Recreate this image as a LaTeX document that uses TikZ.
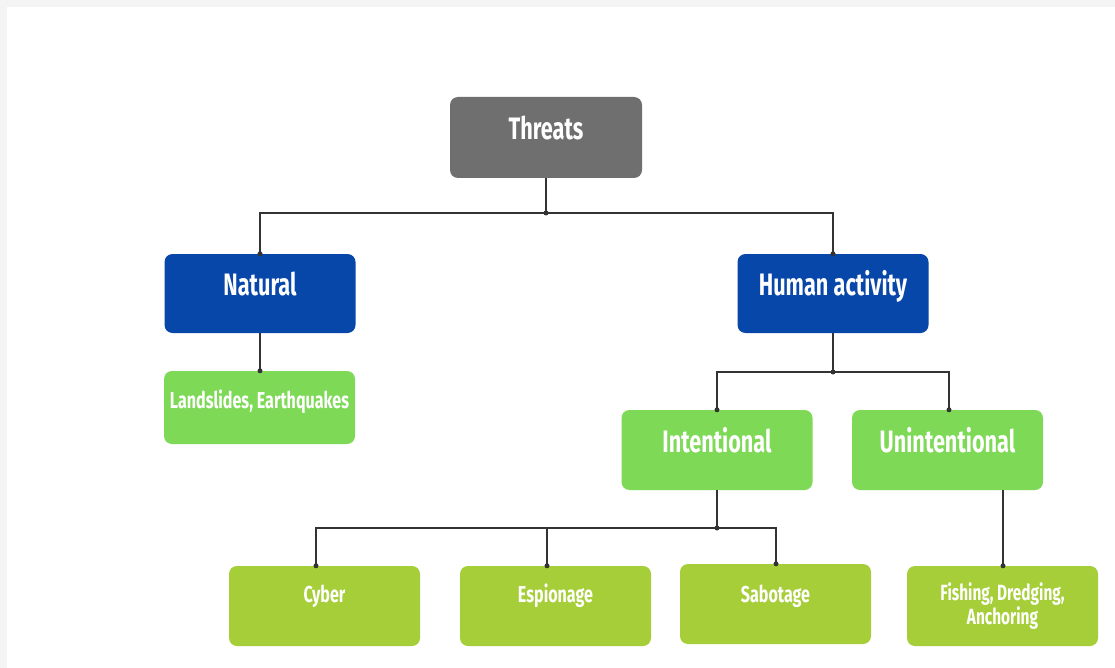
\documentclass[tikz,border=0pt]{standalone}
\usepackage{fontspec}
\newfontfamily\cond[FakeStretch=0.7]{Fira Sans}
\definecolor{pagegrey}{HTML}{F4F4F4}
\definecolor{boxgrey}{HTML}{6F6F6F}
\definecolor{boxblue}{HTML}{0747A9}
\definecolor{boxlight}{HTML}{7ED957}
\definecolor{boxlime}{HTML}{A6CE39}
\definecolor{linecol}{HTML}{333333}
\begin{document}
\begin{tikzpicture}[x=1pt,y=-1pt,
  box/.style={rounded corners=8pt, minimum width=191pt, inner sep=0pt, text=white, draw=none},
  bigtext/.style={font=\cond\bfseries\fontsize{31}{36}\selectfont},
  smalltext/.style={font=\cond\bfseries\fontsize{23}{26}\selectfont},
  conn/.style={draw=linecol, line width=1.5pt},
  dot/.style={fill=linecol, circle, inner sep=0pt, minimum size=5pt}
]
\fill[pagegrey] (0,0) rectangle (1115,668);
\fill[white] (7,7) rectangle (1115,668);
\useasboundingbox (0,0) rectangle (1115,668);

% nodes
\node[box, bigtext, fill=boxgrey, minimum width=192pt, text height=43pt, text depth=38pt] (threats) at (546,137.5) {Threats};
\node[box, bigtext, fill=boxblue, text height=41pt, text depth=38pt] (natural) at (260,293.5) {Natural};
\node[box, bigtext, fill=boxblue, text height=41pt, text depth=38pt] (human) at (833,293.5) {Human activity};
\node[box, smalltext, fill=boxlight, text height=37pt, text depth=36pt] (land) at (259.5,407.5) {Landslides, Earthquakes};
\node[box, bigtext, fill=boxlight, text height=42pt, text depth=38pt] (intent) at (717,450) {Intentional};
\node[box, bigtext, fill=boxlight, text height=42pt, text depth=38pt] (unintent) at (947.5,450) {Unintentional};
\node[box, smalltext, fill=boxlime, text height=36pt, text depth=44pt] (cyber) at (324.5,606) {Cyber};
\node[box, smalltext, fill=boxlime, text height=36pt, text depth=44pt] (espionage) at (555.5,606) {Espionage};
\node[box, smalltext, fill=boxlime, text height=38pt, text depth=42pt] (sabotage) at (775.5,604) {Sabotage};
\node[box, smalltext, fill=boxlime, minimum height=80pt, align=center, font=\cond\bfseries\fontsize{22}{24}\selectfont] (fishing) at (1002.5,606) {Fishing, Dredging,\\Anchoring};

% junctions
\coordinate (j1) at (546,213);
\coordinate (j2) at (833,372);
\coordinate (j3) at (717,528);

% connectors
\draw[conn] (threats.south) -- (j1);
\draw[conn] (j1) -| (natural.north);
\draw[conn] (j1) -| (human.north);
\draw[conn] (natural.south) -- (natural.south |- land.north);
\draw[conn] (human.south) -- (j2);
\draw[conn] (j2) -| (intent.north);
\draw[conn] (j2) -| (unintent.north -| 949,0);
\draw[conn] (intent.south) -- (j3);
\draw[conn] (j3) -| (cyber.north -| 316,0);
\draw[conn] (j3) -| (espionage.north -| 547,0);
\draw[conn] (j3) -| (sabotage.north -| 776,0);
\draw[conn] (unintent.south -| 1003,0) -- (fishing.north -| 1003,0);

% dots
\foreach \p in {j1, j2, j3, natural.north, human.north, intent.north}
  \node[dot] at (\p) {};
\node[dot] at (natural.south |- land.north) {};
\node[dot] at (unintent.north -| 949,0) {};
\node[dot] at (cyber.north -| 316,0) {};
\node[dot] at (espionage.north -| 547,0) {};
\node[dot] at (sabotage.north -| 776,0) {};
\node[dot] at (fishing.north -| 1003,0) {};
\end{tikzpicture}
\end{document}
